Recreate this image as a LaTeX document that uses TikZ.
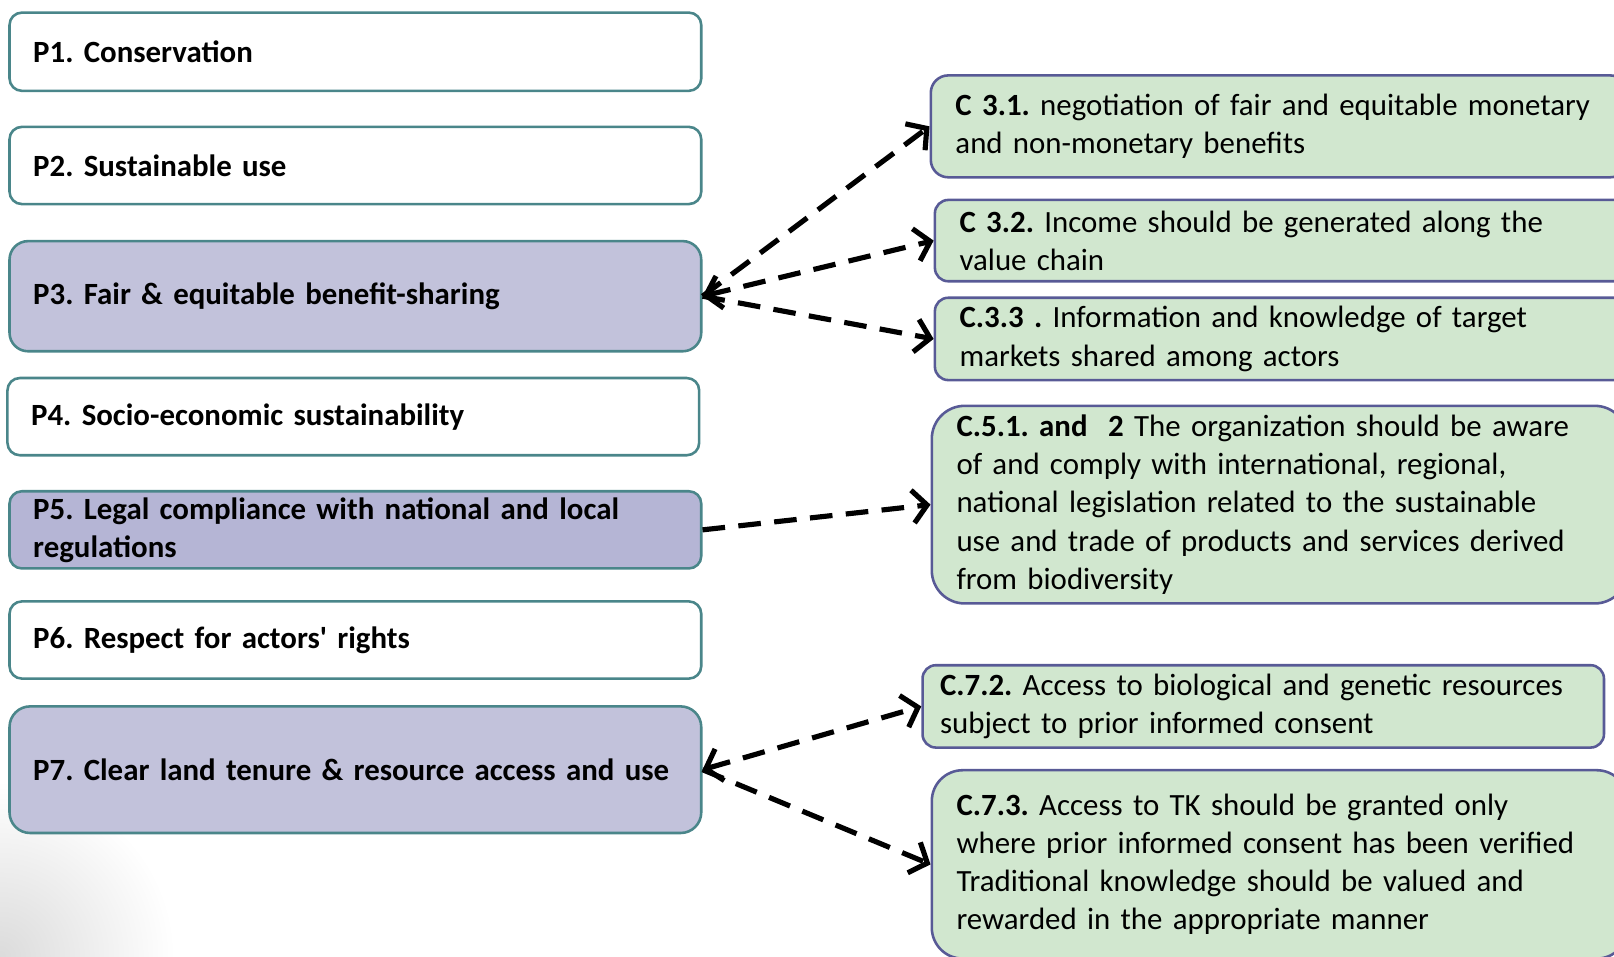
\documentclass[tikz,border=0pt]{standalone}
\usepackage{fontspec}
\setmainfont{Carlito}
\usetikzlibrary{arrows.meta, positioning}

\definecolor{pborder}{RGB}{74,134,138}
\definecolor{pfill}{RGB}{194,194,219}
\definecolor{pfilldark}{RGB}{181,181,213}
\definecolor{cborder}{RGB}{88,90,150}
\definecolor{cfill}{RGB}{209,231,207}

\begin{document}
\frenchspacing
\begin{tikzpicture}[x=1pt, y=-1pt, node distance=32.5pt,
  >={Straight Barb[length=14pt,width=32pt]},
  pbox/.style={rectangle, draw=pborder, line width=2.5pt, rounded corners=12pt,
    minimum width=672pt, minimum height=75pt, text width=626pt, inner xsep=23pt,
    align=left, font=\fontsize{30}{37}\selectfont\bfseries},
  cbox/.style={rectangle, draw=cborder, fill=cfill, line width=2.5pt,
    anchor=north west, inner xsep=24pt, align=left,
    font=\fontsize{30}{37}\selectfont},
  link/.style={line width=5pt, dash pattern=on 22pt off 13pt}]
\useasboundingbox (0,0) rectangle (1568,929);
\clip (0,0) rectangle (1568,929);
\shade[inner color=black!14, outer color=white] (0,929) circle (170);

% principles
\node (p1) [pbox, anchor=north west, minimum height=76pt] at (8,11) {P1. Conservation};
\node (p2) [pbox, below=of p1] {P2. Sustainable use};
\node (p3) [pbox, fill=pfill, below=33.5pt of p2, minimum height=107pt, rounded corners=18pt]
  {P3. Fair \& equitable benefit-sharing};
\node (p4) [pbox, below=23.5pt of p3, xshift=-2pt] {P4. Socio-economic sustainability};
\node (p5) [pbox, fill=pfilldark, below=32.5pt of p4, xshift=2pt]
  {P5. Legal compliance with national and local\\regulations};
\node (p6) [pbox, below=29.5pt of p5] {P6. Respect for actors\textquotesingle{} rights};
\node (p7) [pbox, fill=pfill, below=24.5pt of p6, minimum height=123pt, rounded corners=20pt]
  {P7. Clear land tenure \& resource access and use};

% criteria
\node (c31) [cbox, text width=629pt, minimum height=99pt, rounded corners=17pt] at (903,72)
  {\textbf{C 3.1.} negotiation of fair and equitable monetary\\and non-monetary benefits};
\node (c32) [cbox, text width=625pt, minimum height=79pt, rounded corners=13pt] at (907,193)
  {\textbf{C 3.2.} Income should be generated along the\\value chain};
\node (c33) [cbox, text width=625pt, minimum height=80pt, rounded corners=13pt] at (907,288)
  {\textbf{C.3.3 .} Information and knowledge of target\\markets shared among actors};
\node (c51) [cbox, text width=628pt, minimum height=192pt, rounded corners=32pt] at (904,393)
  {\textbf{C.5.1. and\ \ 2} The organization should be aware\\of and comply with international, regional,\\national legislation related to the sustainable\\use and trade of products and services derived\\from biodiversity};
\node (c72) [cbox, text width=628pt, inner xsep=17pt, minimum height=80pt, rounded corners=13pt] at (895,645)
  {\textbf{C.7.2.} Access to biological and genetic resources\\subject to prior informed consent};
\node (c73) [cbox, text width=628pt, minimum height=183pt, rounded corners=30pt] at (904,747)
  {\textbf{C.7.3.} Access to TK should be granted only\\where prior informed consent has been verified\\Traditional knowledge should be valued and\\rewarded in the appropriate manner};

% links
\draw[link, ->] (p3.east) -- (c31.west);
\draw[link, <->] (p3.east) -- (c32.west);
\draw[link, ->] (p3.east) -- (c33.west);
\draw[link, ->] (p5.east) -- (c51.west);
\draw[link, <->] (p7.east) -- (c72.west);
\draw[link, ->] (p7.east) -- (c73.west);
\end{tikzpicture}
\end{document}
